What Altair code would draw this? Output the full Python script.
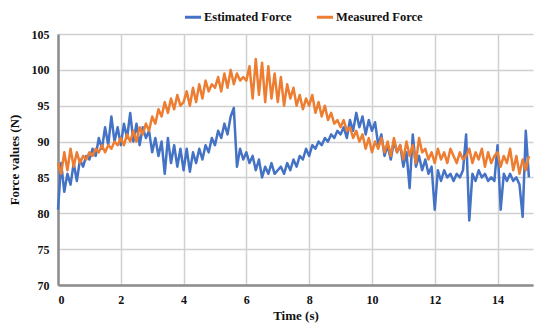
import altair as alt
import pandas as pd

# Sample times (s), 0.1 s apart
time_s = [round(i * 0.1, 1) for i in range(151)]

estimated_force = [
    80.5, 87, 83, 85.5, 84, 87, 84.5, 87.5, 86.5, 88,
    87.5, 89, 88, 90.5, 89, 92, 89.5, 93.5, 90, 92,
    89.5, 92.5, 90.5, 94, 90, 92.5, 89.5, 92, 90.5, 91.5,
    88.5, 90.5, 88, 90, 85.5, 90.5, 87, 89.5, 86.5, 89,
    86, 89, 85.8, 88.5, 87, 89, 87.5, 89.5, 88.5, 90.5,
    89.5, 91.5, 90.5, 92.5, 91, 93.5, 94.7, 86.5, 89, 87.5,
    88.5, 87, 88, 86, 87.5, 85, 86.5, 85.5, 87, 85.5,
    86, 86.5, 85.5, 87, 86, 87.5, 86.5, 88, 87.5, 89,
    88, 89.5, 89, 90, 89.5, 90.5, 90, 91, 90.5, 91.5,
    91, 92, 90.5, 93, 91.5, 94, 92, 93.5, 91, 93,
    91.5, 92.7, 89.5, 91, 88, 89.5, 87.5, 90, 88.5, 89.5,
    86.5, 88.5, 83.5, 91, 86.5, 88, 86, 87.5, 85.5, 86.5,
    80.5, 86, 84.5, 86, 85, 85.5, 84.5, 85.5, 85, 86,
    91, 79, 85.5, 84.5, 86, 85, 85.5, 84.5, 85, 84.5,
    89.5, 80.5, 85.5, 84.5, 85.5, 84.5, 85, 84, 79.5, 91.5,
    85,
]

measured_force = [
    87, 85.5, 88.5, 86, 89, 86.5, 88.5, 87, 88, 87.5,
    88.5, 88, 89, 88.5, 89.5, 88.5, 89.5, 89, 90, 89.5,
    90.5, 89.5, 91, 90, 91.5, 90, 92, 91, 92.5, 91.5,
    93.5, 92.5, 94.5, 93.5, 95.5, 94, 96, 94.5, 96.5, 95,
    95.5, 97, 95, 97.5, 95.5, 98, 96, 98.5, 97, 98,
    97.5, 99, 97, 99.5, 97.5, 100, 98, 99.5, 98.5, 99,
    98.5, 100.5, 96, 101.5, 96.5, 101, 95.5, 100.5, 96, 99.5,
    95.5, 99, 95, 98, 96, 97.5, 95, 96.5, 94.5, 96,
    95, 96.5, 94, 95.5, 93.5, 95, 93, 94, 92.5, 93,
    92, 93, 91.5, 92, 90.5, 91.5, 90, 91, 89, 90.5,
    88.5, 90, 89, 90.5, 88.5, 90, 88, 90.5, 88.5, 89.5,
    87.5, 90, 88, 89.5, 87, 90.5, 88.5, 89, 87.5, 88.5,
    87, 89, 87.5, 88.5, 87, 89, 88, 87, 88.5, 87.5,
    88, 89, 87, 88.5, 87.5, 89, 86.5, 88.5, 87, 88,
    88.5, 86.5, 88, 87, 89, 86, 88, 85.5, 87.5, 86,
    88,
]

series_names = ["Estimated Force", "Measured Force"]
series_colors = ["#4472C4", "#ED7D31"]
x_ticks = [0, 2, 4, 6, 8, 10, 12, 14]
y_ticks = [70, 75, 80, 85, 90, 95, 100, 105]

df = pd.concat([
    pd.DataFrame({"t": time_s, "force": estimated_force, "series": series_names[0]}),
    pd.DataFrame({"t": time_s, "force": measured_force, "series": series_names[1]}),
], ignore_index=True)

FONT = "Liberation Serif"

chart = (
    alt.Chart(df)
    .mark_line(strokeWidth=2.5, strokeJoin="round")
    .encode(
        x=alt.X(
            "t:Q",
            title="Time (s)",
            scale=alt.Scale(domain=[0, 15.13], nice=False, zero=False),
            axis=alt.Axis(values=x_ticks, format="d", labelPadding=9, titlePadding=4),
        ),
        y=alt.Y(
            "force:Q",
            title="Force values (N)",
            scale=alt.Scale(domain=[70, 105], nice=False, zero=False),
            axis=alt.Axis(values=y_ticks, labelPadding=9, titlePadding=10),
        ),
        color=alt.Color(
            "series:N",
            scale=alt.Scale(domain=series_names, range=series_colors),
            legend=alt.Legend(
                title=None,
                orient="none",
                direction="horizontal",
                legendX=125,
                legendY=-27,
                symbolType="stroke",
                symbolSize=260,
                symbolStrokeWidth=3,
                labelFont=FONT,
                labelFontWeight="bold",
                labelFontSize=12.5,
                labelColor="#111111",
                labelOffset=1,
                columnPadding=18,
            ),
        ),
        detail="series:N",
        order="t:Q",
    )
    .properties(
        width=475,
        height=251,
        autosize=alt.AutoSizeParams(type="none"),
        padding={"left": 58, "top": 34, "right": 1, "bottom": 44},
    )
    .configure_view(stroke=None)
    .configure_axis(
        labelFont=FONT,
        labelFontWeight="bold",
        labelFontSize=12,
        labelColor="#111111",
        titleFont=FONT,
        titleFontWeight="bold",
        titleFontSize=13,
        titleColor="#111111",
        grid=True,
        gridColor="#D0D0D0",
        gridWidth=1.5,
        ticks=False,
        domain=False,
    )
    .configure_axisLeft(domain=True, domainColor="#8C8C8C", domainWidth=2.5)
    .configure_axisBottom(domain=True, domainColor="#8C8C8C", domainWidth=2.5)
)

chart.save("out.html", embed_options={"renderer": "svg", "actions": False})
